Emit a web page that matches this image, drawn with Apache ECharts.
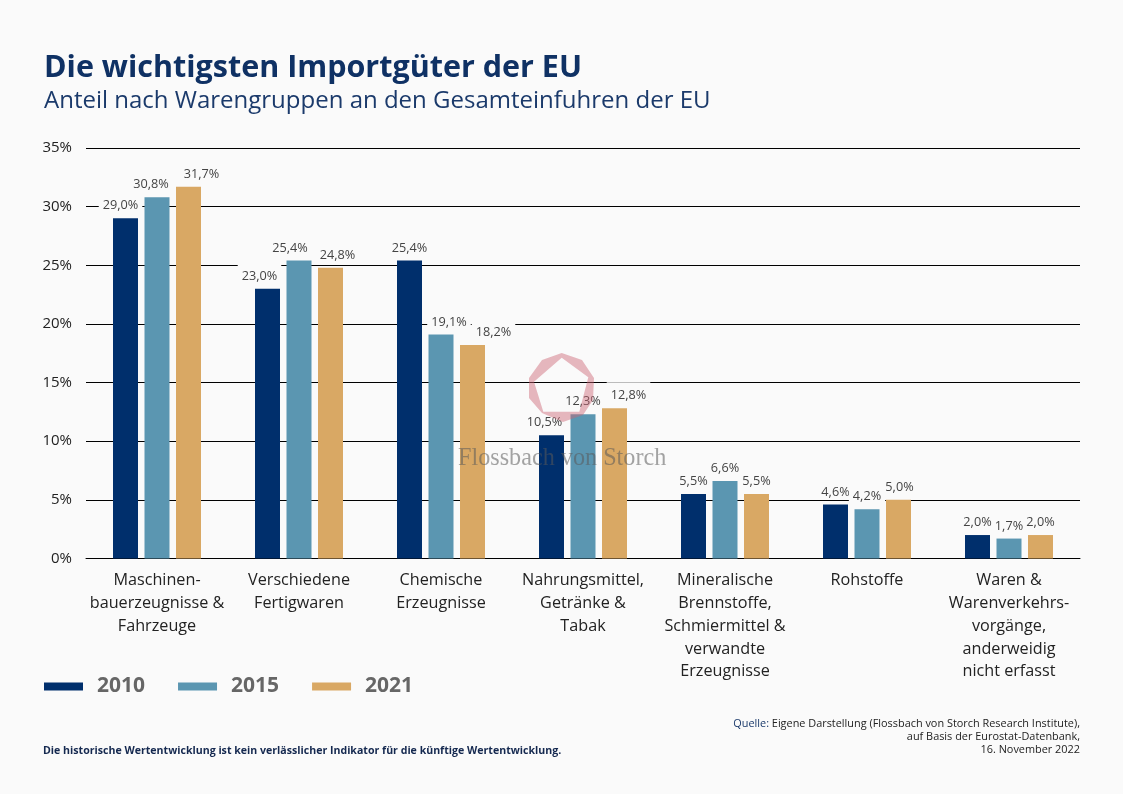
<!DOCTYPE html>
<html><head><meta charset="utf-8">
<style>html,body{margin:0;padding:0;background:#fafafa}#c{width:1123px;height:794px}</style>
<script src="https://cdn.jsdelivr.net/npm/echarts@6/dist/echarts.min.js"></script>
</head><body><div id="c"></div>
<script>
const categories = ["Maschinen-\nbauerzeugnisse &\nFahrzeuge","Verschiedene\nFertigwaren","Chemische\nErzeugnisse","Nahrungsmittel,\nGetränke &\nTabak","Mineralische\nBrennstoffe,\nSchmiermittel &\nverwandte\nErzeugnisse","Rohstoffe","Waren &\nWarenverkehrs-\nvorgänge,\nanderweidig\nnicht erfasst"];
const v2010 = [29.0,23.0,25.4,10.5,5.5,4.6,2.0];
const v2015 = [30.8,25.4,19.1,12.3,6.6,4.2,1.7];
const v2021 = [31.7,24.8,18.2,12.8,5.5,5.0,2.0];
// hand placement of the value labels in the source chart (styling, not data)
const nudge2010 = [-5,-8,0,-7,0,0,0];
const nudge2015 = [-6,-9,8,0,0,0,0];
const nudge2021 = [13,7,21,14,0,1,0];
// labels whose opaque box interrupts a gridline in the source chart
const mask2010 = [1,1,0,0,0,1,0];
const mask2015 = [0,0,1,0,0,1,0];
const mask2021 = [0,0,1,1,0,0,0];
const bg = '#fafafa', font = '"Open Sans","Noto Sans",sans-serif';
const fmt = v => v.toFixed(1).replace('.',',') + '%';
const mk = (name,data,color,nudge,mask) => ({name,type:'bar',barWidth:25,barGap:'26%',itemStyle:{color},
  data:data.map((value,i)=>({value,label:{offset:[nudge[i],0],backgroundColor:mask[i]?bg:'transparent'}})),
  label:{show:true,position:'top',distance:5,formatter:p=>fmt(p.value),color:'#444',fontSize:12.7,fontFamily:font,padding:[7,4,1,4]},
  emphasis:{disabled:true},z:3});
const chart = echarts.init(document.getElementById('c'),null,{renderer:'canvas'});
chart.setOption({
  backgroundColor:bg,animation:false,
  title:[
   {text:'Die wichtigsten Importgüter der EU',left:39,top:48,textStyle:{fontFamily:font,fontSize:30.5,fontWeight:700,color:'#0f3164',letterSpacing:-0.6}},
   {text:'Anteil nach Warengruppen an den Gesamteinfuhren der EU',left:39,top:84,textStyle:{fontFamily:font,fontSize:24,fontWeight:400,color:'#1b3a6b'}}
  ],
  grid:{left:86,right:43,top:148,height:410.5,containLabel:false},
  legend:{show:true,left:39,top:671,itemWidth:39,itemHeight:8,itemGap:33,icon:'rect',data:['2010','2015','2021'],
    textStyle:{fontFamily:font,fontSize:21,fontWeight:700,color:'#666',padding:[0,0,0,9]}},
  xAxis:{type:'category',data:categories,axisTick:{show:false},axisLine:{lineStyle:{color:'#000',width:1}},
    axisLabel:{interval:0,color:'#222',fontFamily:font,fontSize:16.2,lineHeight:22.75,margin:11,align:'center',verticalAlign:'top'}},
  yAxis:{type:'value',min:0,max:35,interval:5,axisLine:{show:false},axisTick:{show:false},
    splitLine:{lineStyle:{color:'#000',width:1}},
    axisLabel:{formatter:'{value}%',color:'#222',fontFamily:font,fontSize:15,margin:14,padding:[4,0,0,0]}},
  series:[mk('2010',v2010,'#002f6c',nudge2010,mask2010),mk('2015',v2015,'#5b96b1',nudge2015,mask2015),mk('2021',v2021,'#d9a864',nudge2021,mask2021)],
  graphic:[
   {type:'polygon',shape:{points:[[561.7,353],[582,360],[594,378],[593,400],[583,415],[563,422],[542,413],[529,398],[529,378],[542,360],[561.7,353],[561.7,357.7],[534,381.7],[543.3,411.7],[579.3,411.7],[588.3,377.3],[561.7,357.7]]},style:{fill:'rgba(205,100,115,.45)'},z:20},
   {type:'text',left:458,top:447,style:{text:'Flossbach von Storch',font:'24.2px "Liberation Serif",serif',fill:'rgba(90,90,90,.55)'},z:20},
   {type:'text',left:43,top:745,style:{text:'Die historische Wertentwicklung ist kein verlässlicher Indikator für die künftige Wertentwicklung.',font:'700 10.6px '+font,fill:'#14284f'}},
   {type:'text',x:1080,y:717,style:{text:'{q|Quelle:} Eigene Darstellung (Flossbach von Storch Research Institute),\nauf Basis der Eurostat-Datenbank,\n16. November 2022',font:'10.9px '+font,fill:'#222',align:'right',lineHeight:13,rich:{q:{font:'10.9px '+font,fill:'#1b3a6b',lineHeight:13}}}}
  ]
});
</script></body></html>
